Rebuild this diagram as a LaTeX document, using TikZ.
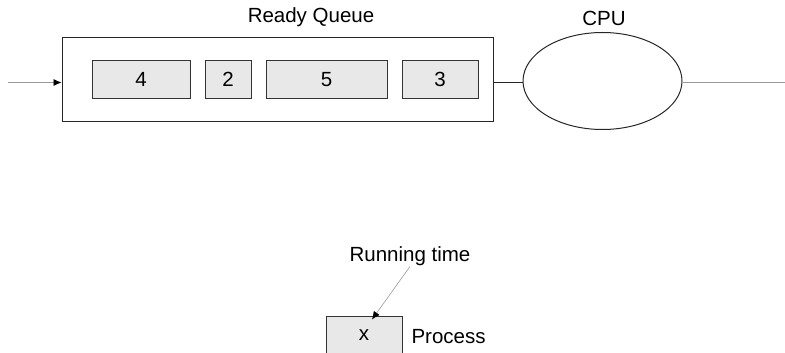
\documentclass[tikz,border=0pt]{standalone}
\usepackage{fontspec}
\setmainfont{Liberation Sans}
\usepackage{xcolor}
\usetikzlibrary{arrows.meta,positioning,shapes.geometric}
\definecolor{jobfill}{HTML}{E8E8E8}
\definecolor{flowgray}{HTML}{9A9A9A}
\tikzset{
    job/.style = {draw = black!80, fill = jobfill, line width = 1pt, inner sep = 0pt,
                  minimum height = 37.5pt, font = \fontsize{20.5}{24}\selectfont},
    flow/.style = {draw = flowgray, line width = 0.8pt},
    tip/.style = {-{Latex[length = 8pt, width = 7pt, black]}}
}
\begin{document}
\begin{tikzpicture}[x = 1pt, y = -1pt,
            every node/.append style = {font = \fontsize{20.5}{24}\selectfont}]
            \useasboundingbox (0,0) rectangle (785,353);
            % ready queue and its jobs
            \node (rq) [draw = black!85, line width = 1pt, minimum width = 431pt,
                minimum height = 83pt, inner sep = 0pt] at (277.5,79.5) {};
            \node (j4) [job, minimum width = 98pt] at (141,79.5) {4};
            \node (j2) [job, minimum width = 46pt] at (228,79.5) {2};
            \node (j5) [job, minimum width = 121pt] at (326.5,79.5) {5};
            \node (j3) [job, minimum width = 76pt] at (440,79.5) {3};
            \node (rqlabel) [anchor = base] at (311,23) {Ready Queue};
            % processor
            \node (cpu) [draw = black!85, line width = 1pt, ellipse, minimum width = 159pt,
                minimum height = 97pt, inner sep = 0pt] at (602.5,81) {};
            \node (cpulabel) [anchor = base] at (604,26) {CPU};
            % flow through the queue
            \coordinate (qin) at (8,82.5);
            \coordinate (qout) at (785,82.5);
            \draw [flow, tip] (qin) -- (qin -| rq.west);
            \draw [draw = black!85, line width = 1pt] (rq.east |- qin) -- (qin -| cpu.west);
            \draw [flow] (cpu.east |- qin) -- (qout);
            % legend
            \node (proc) [job, minimum width = 76pt, minimum height = 38pt] at (364,335) {x};
            \node (proclabel) [anchor = base west] at (408,343) {Process};
            \node (rtime) [anchor = base, inner sep = 1pt] at (410,261) {Running time};
            \draw [flow, line width = 0.6pt, tip] (rtime.south) -- ([xshift = 8pt, yshift = -4pt]proc.north);
\end{tikzpicture}
\end{document}
